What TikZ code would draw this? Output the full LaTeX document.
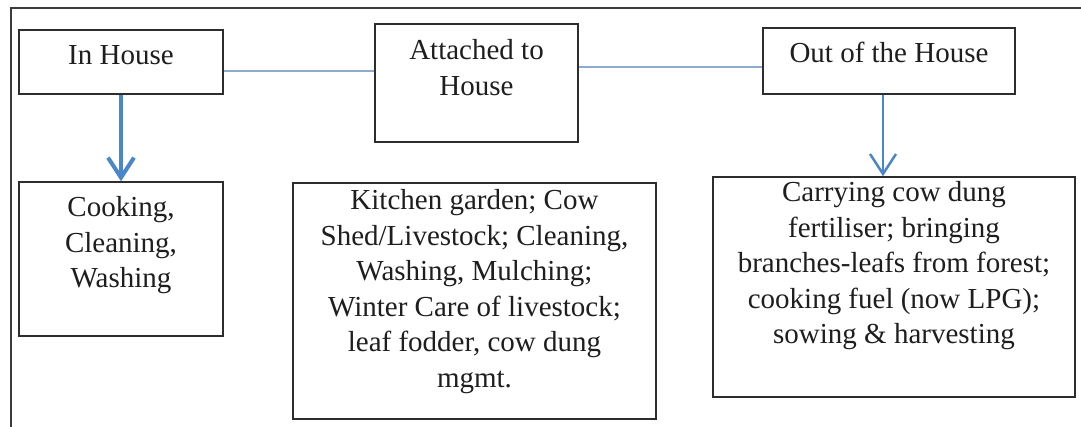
\documentclass[tikz,border=0pt]{standalone}
\usepackage{fontspec}
\setmainfont{Liberation Serif}
\usetikzlibrary{arrows.meta}
\definecolor{arrowblue}{RGB}{74,134,204}
\definecolor{linkblue}{RGB}{140,172,205}
\definecolor{framegray}{RGB}{60,60,60}
\definecolor{boxgray}{RGB}{45,45,45}
\definecolor{inkgray}{RGB}{30,30,30}
\newcommand{\boxtext}[4]{\parbox[c][#2pt][t]{#1pt}{\centering\fontsize{29}{35.5}\selectfont\rule{0pt}{#3pt}#4\par}}
\tikzset{
  box/.style={draw=boxgray, line width=1.5pt, inner sep=0pt, text=inkgray, fill=white},
  link/.style={draw=linkblue, line width=2pt},
  flow/.style={draw=arrowblue, line width=#1, -{Straight Barb[length=20pt,width=26pt]}},
  frame/.style={draw=framegray, line width=2pt}
}
\begin{document}
\begin{tikzpicture}[x=1pt,y=-1pt]
\useasboundingbox (0,0) rectangle (1081,427);
\fill[white] (0,0) rectangle (1081,427);
% outer frame (left and top only)
\draw[frame] (10.5,427) -- (10.5,8) -- (1081,8);
% top row
\node[box] (inh) at (121,62) {\boxtext{204}{64}{35}{In House}};
\node[box] (att) at (476.5,83) {\boxtext{203}{118}{36}{Attached to\\House}};
\node[box] (out) at (889,61) {\boxtext{252}{66}{35}{Out of the House}};
% bottom row
\node[box] (cook) at (121,259) {\boxtext{204}{154}{35}{Cooking,\\Cleaning,\\Washing}};
\node[box] (kit) at (474.5,301) {\boxtext{363}{236}{27}{Kitchen garden; Cow\\Shed/Livestock; Cleaning,\\Washing, Mulching;\\Winter Care of livestock;\\leaf fodder, cow dung\\mgmt.}};
\node[box] (car) at (894,287) {\boxtext{362}{220}{25}{Carrying cow dung\\fertiliser; bringing\\branches-leafs from forest;\\cooking fuel (now LPG);\\sowing \& harvesting}};
% connectors
\draw[link] ([yshift=-9pt]inh.east) -- ([yshift=-9pt]inh.east -| att.west);
\draw[link] ([yshift=16pt]att.east) -- ([yshift=16pt]att.east -| out.west);
\draw[flow=4pt] (inh.south) -- (cook.north);
\draw[flow=2.5pt] ([xshift=-6pt]out.south) -- ([xshift=-6pt]out.south |- car.north);
\end{tikzpicture}
\end{document}
